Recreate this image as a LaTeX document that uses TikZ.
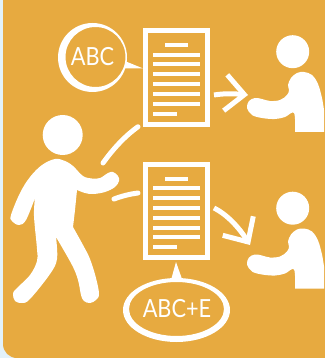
\documentclass[tikz,border=0pt]{standalone}
\usepackage{fontspec}
\setmainfont{Lato}[FakeStretch=0.87]
\usetikzlibrary{calc,arrows.meta}
\definecolor{panelorange}{HTML}{E7AA40}
\definecolor{paleblue}{HTML}{E3F2FA}
\tikzset{
  docbox/.style={draw=white, line width=5pt, minimum width=61.5pt, minimum height=93.5pt, inner sep=0pt},
  docline/.style={draw=white, line width=4pt},
  flowline/.style={draw=white, line width=5pt, line cap=round},
  flowarrow/.style={draw=white, line width=5pt, -{Straight Barb[length=19pt,width=36pt,line width=5pt]}},
  label/.style={text=white, font=\fontsize{25}{25}\selectfont, inner sep=0pt}
}
\newcommand*{\DrawDoc}[3]{% #1 = name, #2 = x, #3 = y
\node [docbox] (#1) at (#2,#3) {};
\draw [docline] ($(#1)+(-11.5,-32.5)$) -- ($(#1)+(11.5,-32.5)$);
\foreach \y in {-22.8,-13.1,-3.2,6.5,16.5,26.2} {
\draw [docline] ($(#1)+(-23.2,\y)$) -- ($(#1)+(23.8,\y)$);
}%
\draw [docline] ($(#1)+(-23.2,36.2)$) -- ($(#1)+(0.5,36.2)$);
}
\newcommand*{\DrawPerson}[2]{% #1 = name, #2 = y shift
\begin{scope}[shift={(0,#2)}]
\node [circle, fill=white, minimum size=33pt, inner sep=0pt] (#1head) at (292.7,51.7) {};
\fill [white] (324,132) -- (295,132) -- plot [smooth, tension=0.6] coordinates {
(295,132) (294,113) (285,117) (275,119) (262,118) (252,115) (247,108) (249,101) (255,98)
(262,99) (270,101) (280,100) (287,95) (289,90) (288,85) (291,78) (297,73) (304,72)
(312,75) (318,84) (322,98) (324,110)} -- cycle;
\end{scope}
}
\begin{document}
\begin{tikzpicture}[x=1pt,y=-1pt]
\useasboundingbox (0,0) rectangle (324,358);
\fill [paleblue] (0,0) rectangle (324,358);
\fill [panelorange, rounded corners=14pt] (3,-30) rectangle (345,358);

\DrawDoc{docA}{176.5}{77.5}
\DrawDoc{docB}{176.5}{211}
\DrawPerson{readerA}{0}
\DrawPerson{readerB}{156.5}

% left figure
\node [circle, fill=white, minimum size=40pt, inner sep=0pt] (writerhead) at (62.7,135) {};
\fill [white] plot [smooth, tension=0.6] coordinates {
(35,198) (26,220) (19,225) (12,221) (11,215) (20,193) (30,177) (42,165) (55,159) (65,161)
(73,166) (83,176) (92,178.5) (100,178) (108,173) (113,172) (118,176) (119,181) (115,187)
(105,192) (93,194) (85,193) (77,190)}
-- plot [smooth, tension=0.6] coordinates {(77,190) (75,210) (73,227)}
-- plot [smooth, tension=0.6] coordinates {
(73,227) (83,245) (90,259) (96,278) (99,294) (96,300) (90,303) (84,301) (81,295) (78,280)
(72,265) (56,237)}
-- plot [smooth, tension=0.6] coordinates {
(56,237) (57,259) (50,274) (30,299) (22,303) (15,301) (13,294) (16,289) (30,275) (37,261)
(37,249) (34,216) (35,198)} -- cycle;

% speech bubbles
\node [label] (abc) at (92.5,57) {ABC};
\fill [white, even odd rule] (92.5,57.5) circle (34.5) (95.5,57) circle (30);
\fill [white] (126,61.5) -- (142.7,68.3) -- (124,68.5) -- cycle;
\node [label] (abce) at (177,308.5) {ABC+E};
\fill [white, even odd rule] (176.5,310) ellipse (53.5 and 32) (176.5,309) ellipse (47.5 and 27);
\fill [white] (171.3,279) -- (176,262) -- (182,279) -- cycle;

% connectors
\coordinate (writerA) at (103,163);
\coordinate (writerB) at (114,199);
\coordinate (sendA) at (214,95);
\coordinate (sendB) at (214,208);
\coordinate (handA) at (248,95);
\coordinate (handB) at (250,245);
\draw [flowline] (writerA) .. controls (113,149) and (125,136) .. (docA.south west -| 138,127);
\draw [flowline] (writerB) .. controls (122,196) and (130,194) .. (138,193);
\draw [flowarrow] (sendA) .. controls (226,93) and (238,94) .. (handA);
\draw [flowarrow] (sendB) .. controls (228,215) and (240,229) .. (handB);
\end{tikzpicture}
\end{document}
